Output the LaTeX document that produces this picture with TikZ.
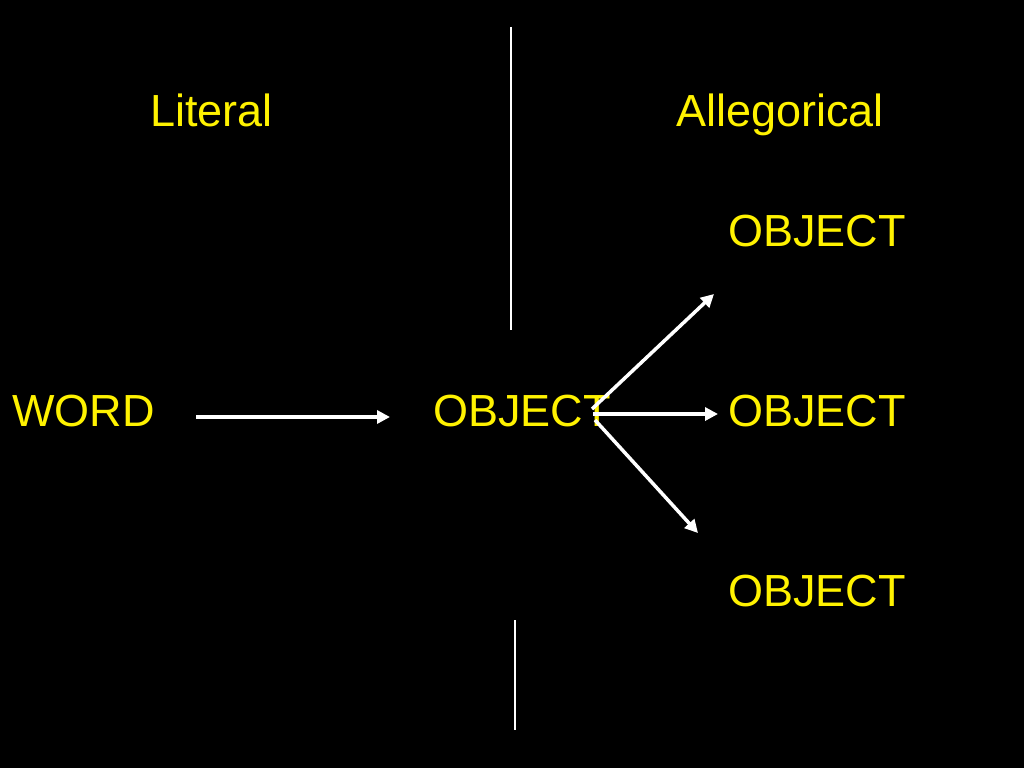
\documentclass[tikz,border=0pt]{standalone}
\usepackage{fontspec}
\setmainfont{Liberation Sans}
\usetikzlibrary{arrows.meta}
\begin{document}
\begin{tikzpicture}[x=1pt,y=-1pt,
  lbl/.style={text=yellow,font=\fontsize{45}{50}\selectfont,inner sep=0pt,anchor=base west},
  arr/.style={draw=white,line width=3.5pt,-{Triangle[length=13pt,width=13pt]}},
  divider/.style={draw=white,line width=1.5pt}]
\fill[black] (0,0) rectangle (1024,768);
\useasboundingbox (0,0) rectangle (1024,768);
% labels
\node[lbl] (lit) at (150,126) {Literal};
\node[lbl] (alle) at (676,126) {Allegorical};
\node[lbl] (word) at (12,426) {WORD};
\node[lbl] (obj) at (433,426) {OBJECT};
\node[lbl] (objA) at (728,246) {OBJECT};
\node[lbl] (objB) at (728,426) {OBJECT};
\node[lbl] (objC) at (728,606) {OBJECT};
% dividers
\coordinate (d1) at (511,27);
\coordinate (d2) at (511,330);
\coordinate (d3) at (515,620);
\coordinate (d4) at (515,730);
\draw[divider] (d1) -- (d2);
\draw[divider] (d3) -- (d4);
% arrows
\coordinate (ws) at (196,417);
\coordinate (we) at (390,417);
\draw[arr] (ws) -- (we);
\coordinate (hub1) at (592,409);
\coordinate (hub2) at (593,414);
\coordinate (hub3) at (595,420);
\coordinate (upE) at (714,294);
\coordinate (midE) at (718,414);
\coordinate (lowE) at (698,533);
\draw[arr] (hub1) -- (upE);
\draw[arr] (hub2) -- (midE);
\draw[arr] (hub3) -- (lowE);
\end{tikzpicture}
\end{document}
